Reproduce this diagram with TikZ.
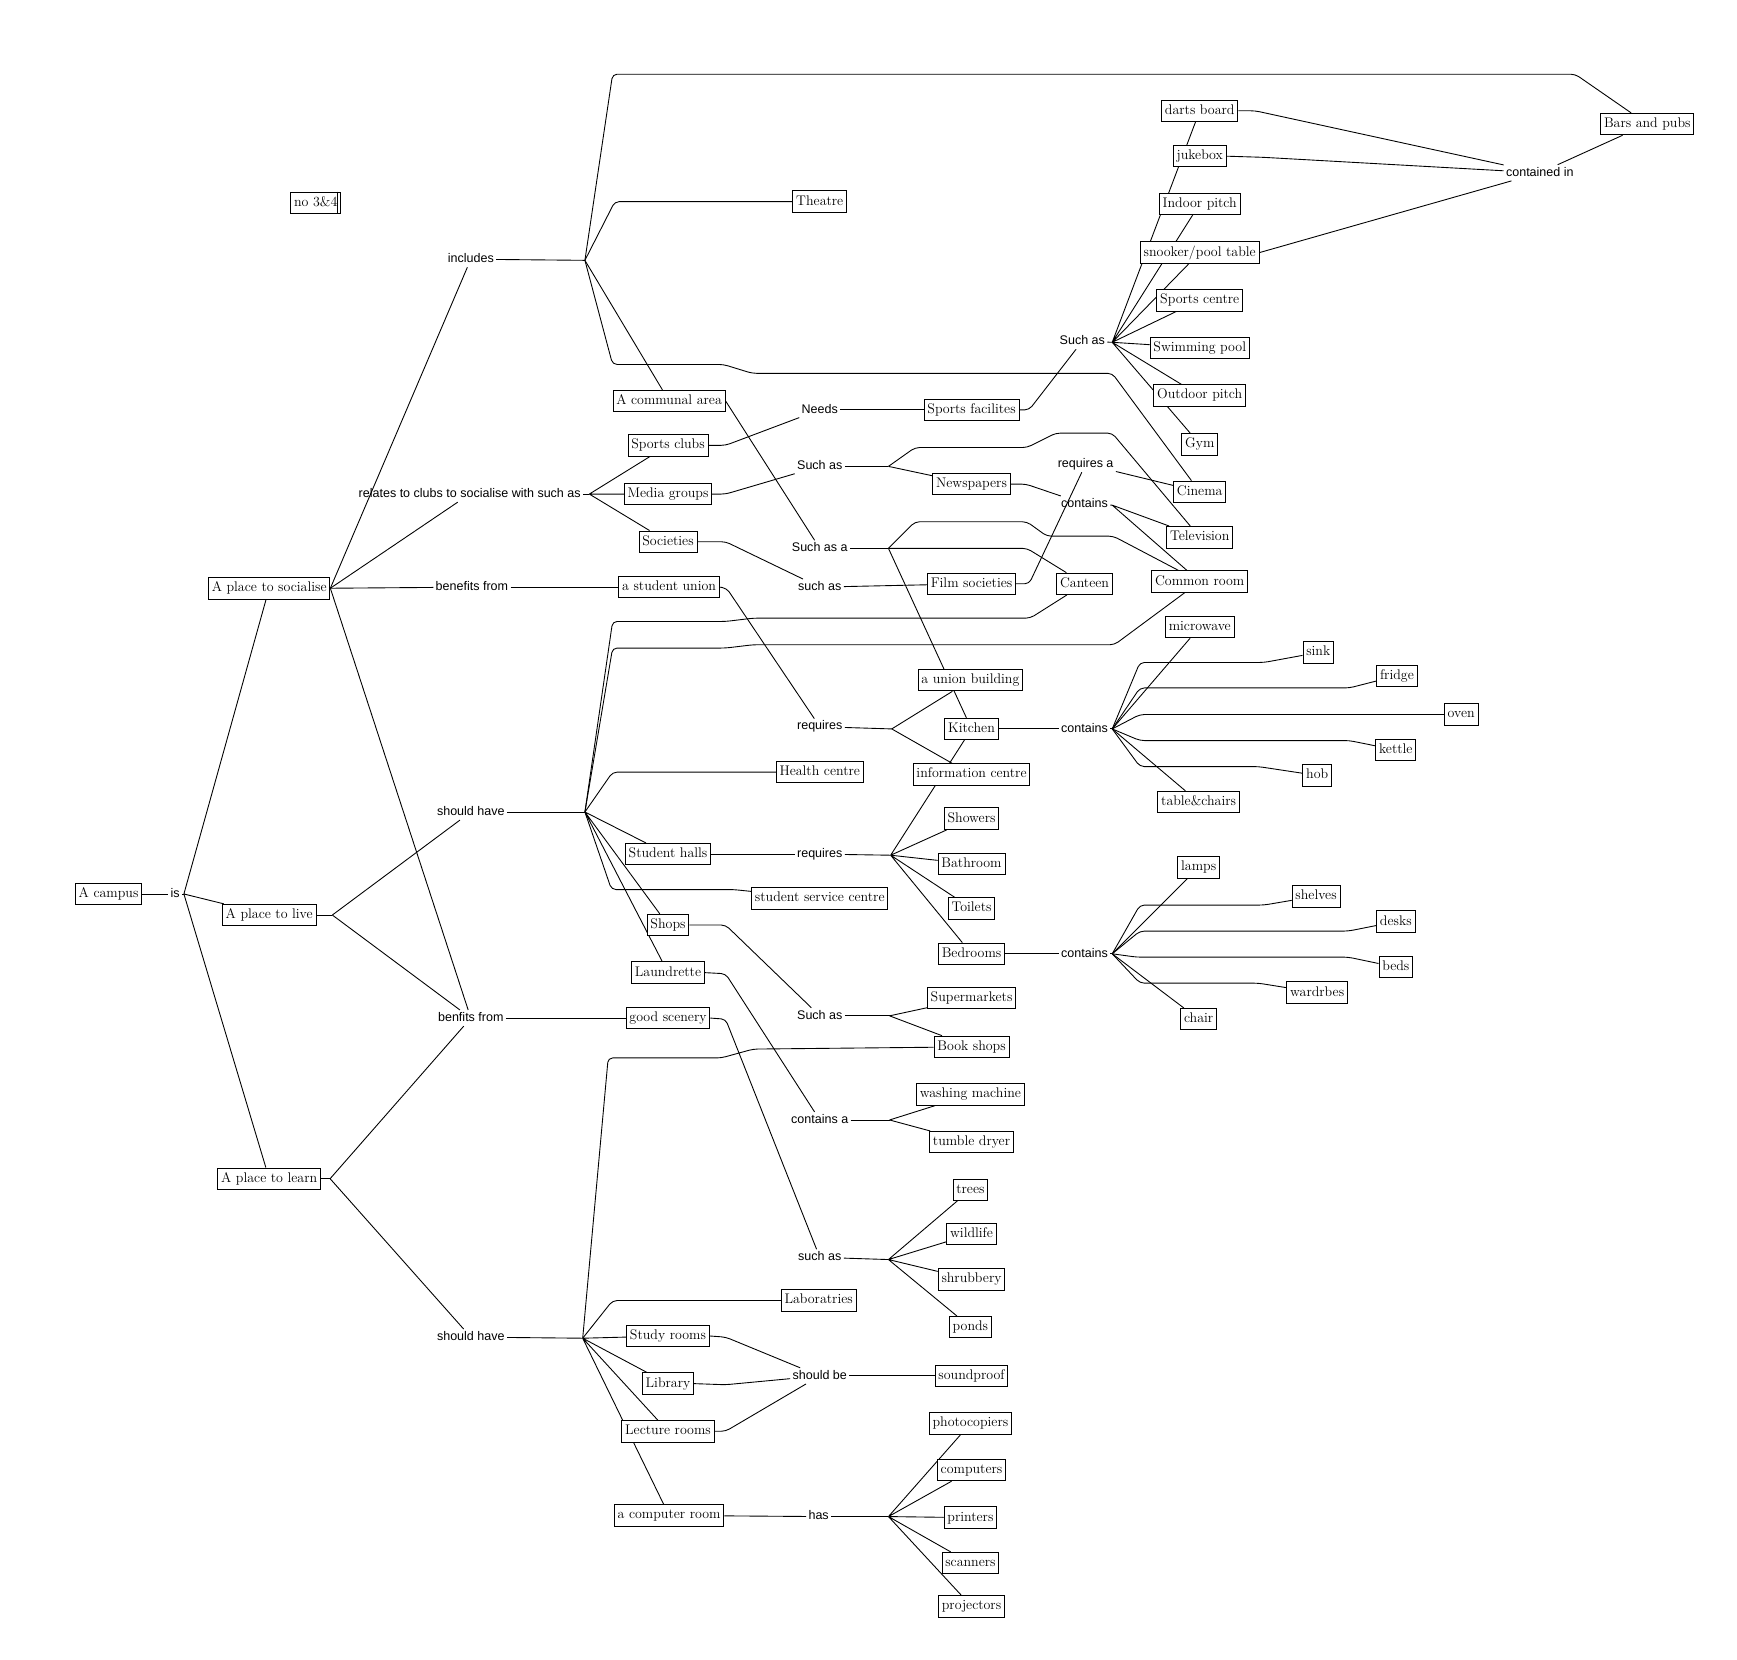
\documentclass[tikz,border=0pt]{standalone}
\usepackage{fontspec}
\newfontfamily\linkfont{Liberation Sans}
\usetikzlibrary{backgrounds}

\begin{document}
\begin{tikzpicture}[
    x=1pt, y=-1pt,
    box/.style={draw, line width=0.8pt, fill=white, inner xsep=3pt, inner ysep=4pt, text height=8.8pt, text depth=2.6pt, font=\fontsize{12.6}{14}\selectfont},
    link/.style={inner sep=2pt, text height=8pt, text depth=2.2pt, font=\linkfont\fontsize{11.3}{13}\selectfont},
    wire/.style={line width=0.8pt, rounded corners=4pt},
]
\useasboundingbox (0,0) rectangle (1568,1498);

\node[box] (note) at (285,183) {no 3\&4};
\node[box] (camp) at (98,807) {A campus};
\node[box] (soc) at (243,531) {A place to socialise};
\node[box] (live) at (243,826) {A place to live};
\node[box] (learn) at (243,1064) {A place to learn};

\node[box] (theatre) at (740,182) {Theatre};
\node[box] (bars) at (1487,112) {Bars and pubs};
\node[box] (darts) at (1083,100) {darts board};
\node[box] (jukebox) at (1083,141) {jukebox};
\node[box] (indoor) at (1083,184) {Indoor pitch};
\node[box] (snooker) at (1083,228) {snooker/pool table};
\node[box] (sportsc) at (1083,271) {Sports centre};
\node[box] (swim) at (1083,314) {Swimming pool};
\node[box] (outdoor) at (1083,357) {Outdoor pitch};
\node[box] (gym) at (1083,401) {Gym};
\node[box] (cinema) at (1083,444) {Cinema};
\node[box] (tv) at (1083,485) {Television};
\node[box] (common) at (1083,525) {Common room};
\node[box] (canteen) at (979,527) {Canteen};
\node[box] (communal) at (604,362) {A communal area};
\node[box] (sclubs) at (603,402) {Sports clubs};
\node[box] (media) at (603,446) {Media groups};
\node[box] (societies) at (603,489) {Societies};
\node[box] (sunion) at (604,530) {a student union};
\node[box] (sfac) at (877,370) {Sports facilites};
\node[box] (news) at (877,437) {Newspapers};
\node[box] (filmsoc) at (877,527) {Film societies};

\node[box] (microwave) at (1083,566) {microwave};
\node[box] (sink) at (1190,589) {sink};
\node[box] (fridge) at (1261,610) {fridge};
\node[box] (oven) at (1319,645) {oven};
\node[box] (kettle) at (1260,677) {kettle};
\node[box] (hob) at (1189,700) {hob};
\node[box] (tablec) at (1082,724) {table\&chairs};
\node[box] (union) at (876,614) {a union building};
\node[box] (kitchen) at (877,658) {Kitchen};
\node[box] (info) at (877,699) {information centre};
\node[box] (health) at (740,697) {Health centre};
\node[box] (showers) at (877,739) {Showers};
\node[box] (bathroom) at (877,780) {Bathroom};
\node[box] (toilets) at (877,820) {Toilets};
\node[box] (bedrooms) at (877,861) {Bedrooms};
\node[box] (halls) at (603,771) {Student halls};
\node[box] (ssc) at (740,811) {student service centre};
\node[box] (shops) at (603,835) {Shops};
\node[box] (laund) at (603,878) {Laundrette};
\node[box] (lamps) at (1082,783) {lamps};
\node[box] (shelves) at (1188,809) {shelves};
\node[box] (desks) at (1260,832) {desks};
\node[box] (beds) at (1260,873) {beds};
\node[box] (wardrbes) at (1189,896) {wardrbes};
\node[box] (chair) at (1082,920) {chair};

\node[box] (scenery) at (603,919) {good scenery};
\node[box] (supermkt) at (877,901) {Supermarkets};
\node[box] (bookshops) at (877,945) {Book shops};
\node[box] (washing) at (876,988) {washing machine};
\node[box] (tumble) at (877,1031) {tumble dryer};
\node[box] (trees) at (876,1074) {trees};
\node[box] (wildlife) at (877,1114) {wildlife};
\node[box] (shrubbery) at (877,1155) {shrubbery};
\node[box] (ponds) at (876,1198) {ponds};
\node[box] (labs) at (739,1174) {Laboratries};
\node[box] (study) at (603,1206) {Study rooms};
\node[box] (library) at (603,1249) {Library};
\node[box] (lecture) at (603,1292) {Lecture rooms};
\node[box] (soundproof) at (877,1242) {soundproof};
\node[box] (photocop) at (876,1285) {photocopiers};
\node[box] (computers) at (877,1327) {computers};
\node[box] (printers) at (876,1370) {printers};
\node[box] (scanners) at (876,1411) {scanners};
\node[box] (projectors) at (877,1450) {projectors};
\node[box] (comproom) at (604,1368) {a computer room};

\node[link] (isl) at (158,807) {is};
\node[link] (inc) at (425,234) {includes};
\node[link] (rel) at (424,446) {relates to clubs to socialise with such as};
\node[link] (ben) at (426,530) {benefits from};
\node[link] (shlive) at (425,733) {should have};
\node[link] (benf) at (425,919) {benfits from};
\node[link] (shlearn) at (425,1207) {should have};
\node[link] (needs) at (740,370) {Needs};
\node[link] (suchmedia) at (740,421) {Such as};
\node[link] (suchasa) at (740,495) {Such as a};
\node[link] (suchsoc) at (740,530) {such as};
\node[link] (req1) at (740,656) {requires};
\node[link] (req2) at (740,771) {requires};
\node[link] (suchshop) at (740,917) {Such as};
\node[link] (containsa) at (740,1011) {contains a};
\node[link] (suchscen) at (740,1135) {such as};
\node[link] (shouldbe) at (740,1242) {should be};
\node[link] (has) at (739,1369) {has};
\node[link] (suchsport) at (977,308) {Such as};
\node[link] (reqa) at (980,419) {requires a};
\node[link] (contnews) at (979,455) {contains};
\node[link] (contkit) at (979,658) {contains};
\node[link] (contbed) at (979,861) {contains};
\node[link] (contin) at (1390,156) {contained in};

\coordinate (jis) at (166,807);
\coordinate (jlive) at (300,826);
\coordinate (jlearn) at (298,1064);
\coordinate (jinc) at (528,235);
\coordinate (jrel) at (532,446);
\coordinate (jlsh) at (528,733);
\coordinate (jlrn) at (526,1208);
\coordinate (jmedia) at (802,421);
\coordinate (jsa) at (802,495);
\coordinate (jreq1) at (805,658);
\coordinate (jreq2) at (804,772);
\coordinate (jshop) at (803,917);
\coordinate (jlaund) at (803,1011);
\coordinate (jscen) at (802,1137);
\coordinate (jhas) at (802,1369);
\coordinate (jsport) at (1004,309);
\coordinate (jnews) at (1004,456);
\coordinate (jkit) at (1004,658);
\coordinate (jbed) at (1004,861);

\draw[line width=0.8pt] ([xshift=-3.5pt]note.north east) -- ([xshift=-3.5pt]note.south east);

\begin{scope}[on background layer]
\fill[white] (0,0) rectangle (1568,1498);
\draw[wire] (camp) -- (isl);
\draw[wire] (isl) -- (jis);
\draw[wire] (jis) -- (soc) (jis) -- (live) (jis) -- (learn);
\draw[wire] (soc.east) -- (inc);
\draw[wire] (soc.east) -- (rel);
\draw[wire] (soc.east) -- (ben);
\draw[wire] (soc.east) -- (benf);
\draw[wire] (live.east) -- (jlive);
\draw[wire] (jlive) -- (shlive) (jlive) -- (benf);
\draw[wire] (learn.east) -- (jlearn);
\draw[wire] (jlearn) -- (benf) (jlearn) -- (shlearn);
\draw[wire] (ben) -- (sunion);
\draw[wire] (benf) -- (scenery);

\draw[wire] (inc) -- (jinc);
\draw[wire] (jinc) -- (553,67) -- (1422,67) -- (bars);
\draw[wire] (jinc) -- (555,182) -- (theatre);
\draw[wire] (jinc) -- (553,329) -- (653,329) -- (679,337) -- (1004,337) -- (cinema);
\draw[wire] (jinc) -- (communal);

\draw[wire] (rel) -- (jrel);
\draw[wire] (jrel) -- (sclubs) (jrel) -- (media) (jrel) -- (societies);

\draw[wire] (shlive) -- (jlsh);
\draw[wire] (jlsh) -- (553,561) -- (655,561) -- (680,558) -- (930,558) -- (canteen);
\draw[wire] (jlsh) -- (553,585) -- (655,585) -- (680,582) -- (1006,582) -- (common);
\draw[wire] (jlsh) -- (553,697) -- (health);
\draw[wire] (jlsh) -- (halls) (jlsh) -- (shops) (jlsh) -- (laund);
\draw[wire] (jlsh) -- (552,803) -- (662,803) -- (ssc);

\draw[wire] (shlearn) -- (jlrn);
\draw[wire] (jlrn) -- (549,955) -- (651,955) -- (680,947) -- (bookshops);
\draw[wire] (jlrn) -- (553,1174) -- (labs);
\draw[wire] (jlrn) -- (study) (jlrn) -- (library) (jlrn) -- (lecture) (jlrn) -- (comproom);

\draw[wire] (sunion.east) -- (656,531) -- (req1);
\draw[wire] (req1) -- (jreq1);
\draw[wire] (jreq1) -- (union) (jreq1) -- (info);

\draw[wire] (communal.east) -- (suchasa);
\draw[wire] (suchasa) -- (jsa);
\draw[wire] (jsa) -- (826,471) -- (927,471) -- (945,484) -- (1005,484) -- (common);
\draw[wire] (jsa) -- (927,495) -- (canteen);
\draw[wire] (jsa) -- (kitchen);

\draw[wire] (sclubs.east) -- (655,402) -- (needs);
\draw[wire] (needs) -- (sfac);
\draw[wire] (sfac.east) -- (929,370) -- (suchsport);
\draw[wire] (suchsport) -- (jsport);
\draw[wire] (jsport) -- (darts) (jsport) -- (indoor) (jsport) -- (snooker) (jsport) -- (sportsc);
\draw[wire] (jsport) -- (swim) (jsport) -- (outdoor) (jsport) -- (gym);

\draw[wire] (darts.east) -- (1133,100) -- (contin);
\draw[wire] (jukebox.east) -- (1140,142) -- (contin);
\draw[wire] (snooker.east) -- (contin);
\draw[wire] (contin) -- (bars);

\draw[wire] (media.east) -- (655,446) -- (suchmedia);
\draw[wire] (suchmedia) -- (jmedia);
\draw[wire] (jmedia) -- (826,404) -- (927,404) -- (953,391) -- (1004,391) -- (tv);
\draw[wire] (jmedia) -- (news);
\draw[wire] (news.east) -- (926,437) -- (contnews);
\draw[wire] (contnews) -- (jnews);
\draw[wire] (jnews) -- (tv) (jnews) -- (common);

\draw[wire] (societies.east) -- (655,489) -- (suchsoc);
\draw[wire] (suchsoc) -- (filmsoc);
\draw[wire] (filmsoc.east) -- (929,527) -- (reqa);
\draw[wire] (reqa) -- (cinema);

\draw[wire] (kitchen) -- (contkit);
\draw[wire] (contkit) -- (jkit);
\draw[wire] (jkit) -- (microwave) (jkit) -- (tablec);
\draw[wire] (jkit) -- (1029,598) -- (1141,598) -- (sink);
\draw[wire] (jkit) -- (1029,621) -- (1218,621) -- (fridge);
\draw[wire] (jkit) -- (1029,645) -- (oven);
\draw[wire] (jkit) -- (1029,668.5) -- (1218,668.5) -- (kettle);
\draw[wire] (jkit) -- (1029,692) -- (1136,692) -- (hob);

\draw[wire] (halls) -- (req2);
\draw[wire] (req2) -- (jreq2);
\draw[wire] (jreq2) -- (showers) (jreq2) -- (bathroom) (jreq2) -- (toilets) (jreq2) -- (bedrooms) (jreq2) -- (kitchen);
\draw[wire] (bedrooms) -- (contbed);
\draw[wire] (contbed) -- (jbed);
\draw[wire] (jbed) -- (lamps) (jbed) -- (chair);
\draw[wire] (jbed) -- (1029,817) -- (1141,817) -- (shelves);
\draw[wire] (jbed) -- (1029,840.5) -- (1217,840.5) -- (desks);
\draw[wire] (jbed) -- (1026,864) -- (1217,864) -- (beds);
\draw[wire] (jbed) -- (1029,887.5) -- (1136,887.5) -- (wardrbes);

\draw[wire] (shops.east) -- (655,835) -- (suchshop);
\draw[wire] (suchshop) -- (jshop);
\draw[wire] (jshop) -- (supermkt) (jshop) -- (bookshops);
\draw[wire] (laund.east) -- (655,879) -- (containsa);
\draw[wire] (containsa) -- (jlaund);
\draw[wire] (jlaund) -- (washing) (jlaund) -- (tumble);
\draw[wire] (scenery.east) -- (655,920) -- (suchscen);
\draw[wire] (suchscen) -- (jscen);
\draw[wire] (jscen) -- (trees) (jscen) -- (wildlife) (jscen) -- (shrubbery) (jscen) -- (ponds);

\draw[wire] (study.east) -- (655,1207) -- (shouldbe);
\draw[wire] (library.east) -- (655,1250) -- (shouldbe);
\draw[wire] (lecture.east) -- (655,1292) -- (shouldbe);
\draw[wire] (shouldbe) -- (soundproof);
\draw[wire] (comproom) -- (has);
\draw[wire] (has) -- (jhas);
\draw[wire] (jhas) -- (photocop) (jhas) -- (computers) (jhas) -- (printers) (jhas) -- (scanners) (jhas) -- (projectors);
\end{scope}
\end{tikzpicture}
\end{document}
